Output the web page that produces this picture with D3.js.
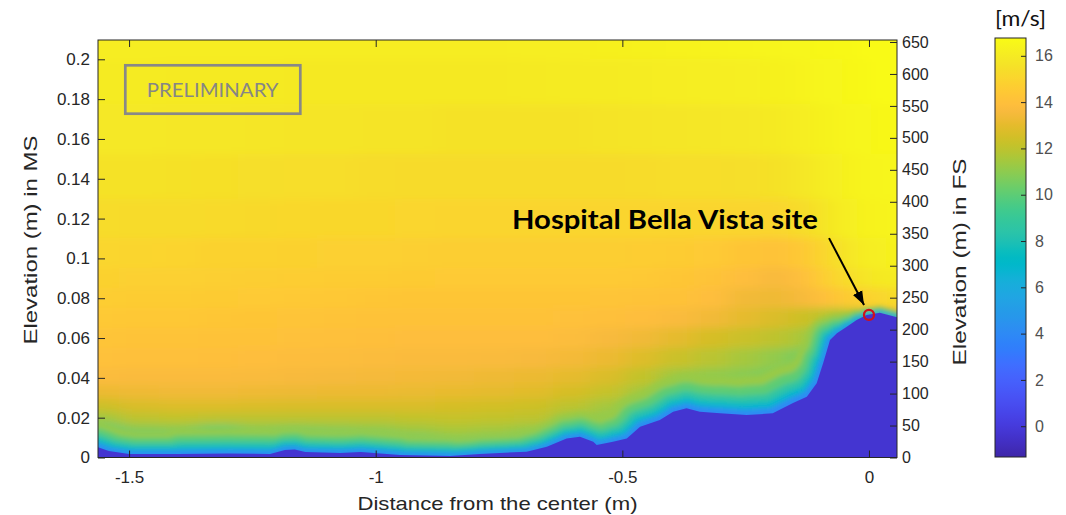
<!DOCTYPE html>
<html>
<head>
<meta charset="utf-8">
<script src="https://cdn.jsdelivr.net/npm/d3@7"></script>
<style>
  body { margin: 0; background: #fff; }
  svg { display: block; font-family: "Liberation Sans", Arial, sans-serif; }
</style>
</head>
<body>
<svg id="chart" width="1066" height="515"></svg>
<script>
// ---------------- data ----------------
var GROUND = -0.3;   // speed inside the terrain
var N = null;        // cell lies inside the terrain

// column centres (distance from the center, m)
var distance = [-1.56, -1.48, -1.40, -1.32, -1.24, -1.16, -1.08, -1.00, -0.92, -0.84, -0.76, -0.68, -0.60,
                -0.53, -0.46, -0.39, -0.32, -0.25, -0.19, -0.14, -0.10, -0.07, -0.04, -0.01, 0.02, 0.05];

// row centres (elevation in MS, m), bottom to top
var elevation = [0.002, 0.005, 0.009, 0.014, 0.02, 0.026, 0.033, 0.04, 0.05, 0.06, 0.07, 0.08, 0.09, 0.10,
                 0.12, 0.14, 0.165, 0.19, 0.21];

// wind speed [m/s], one row per elevation
var speed = [
  [N,N,N,N,N,N,N,N,N,N,N,N,N,N,N,N,N,N,N,N,N,N,N,N,N,N],
  [N,7.5,7.6,6.5,7.5,6.0,7.2,7.6,8.5,9.3,8.8,8.0,N,N,N,N,N,N,N,N,N,N,N,N,N,N],
  [7.8,9.5,9.6,8.5,9.8,9.0,9.5,9.8,10.3,10.8,10.6,10.1,N,9.5,N,N,N,N,N,N,N,N,N,N,N,N],
  [10.0,10.9,11.0,10.4,11.0,10.8,11.0,11.1,11.4,11.6,11.5,11.2,10.3,10.5,N,N,N,N,N,N,N,N,N,N,N,N],
  [11.4,12.0,12.1,12.0,12.0,12.0,12.0,12.0,12.1,12.2,12.1,12.0,11.3,11.0,10.5,N,N,N,N,N,N,N,N,N,N,N],
  [12.4,12.7,12.8,12.8,12.75,12.7,12.7,12.7,12.7,12.6,12.5,12.4,12.0,11.5,11.0,10.5,10.5,10.5,10.3,N,N,N,N,N,N,N],
  [13.2,13.3,13.35,13.35,13.3,13.25,13.2,13.2,13.15,13.1,13.0,12.9,12.6,12.2,11.5,10.8,10.8,10.6,10.4,10.0,N,N,N,N,N,N],
  [13.75,13.7,13.7,13.7,13.65,13.6,13.55,13.5,13.45,13.4,13.3,13.2,13.0,12.7,12.1,11.4,11.1,10.9,10.6,10.1,10.0,N,N,N,N,N],
  [14.05,14.0,14.0,13.95,13.9,13.85,13.8,13.75,13.7,13.7,13.65,13.6,13.45,13.2,12.8,12.3,11.9,11.5,11.1,10.6,10.5,N,N,N,N,N],
  [14.25,14.2,14.2,14.15,14.1,14.05,14.0,13.95,13.9,13.9,13.9,13.9,13.8,13.6,13.35,13.0,12.6,12.3,12.0,11.6,11.0,N,N,N,N,N],
  [14.45,14.4,14.4,14.35,14.3,14.25,14.2,14.15,14.1,14.1,14.1,14.1,14.05,14.0,13.9,13.7,13.4,13.0,12.7,12.4,12.1,11.6,11.8,13.0,13.2,13.4],
  [14.65,14.6,14.6,14.55,14.5,14.45,14.4,14.35,14.3,14.3,14.3,14.3,14.3,14.25,14.2,14.1,13.9,13.4,13.3,13.5,13.9,14.3,14.6,14.8,15.0,15.3],
  [14.85,14.8,14.8,14.75,14.7,14.65,14.6,14.6,14.55,14.5,14.5,14.5,14.5,14.5,14.45,14.35,14.2,13.9,13.6,13.9,14.5,15.0,15.4,15.7,15.9,16.0],
  [15.05,15.0,14.95,14.9,14.9,14.85,14.8,14.8,14.75,14.7,14.7,14.7,14.7,14.7,14.65,14.6,14.5,14.3,14.1,14.4,14.9,15.4,15.8,16.1,16.2,16.3],
  [15.35,15.3,15.3,15.25,15.2,15.15,15.1,15.1,15.05,15.0,15.0,15.0,15.0,15.0,15.0,15.0,15.0,15.0,15.05,15.3,15.6,15.95,16.2,16.35,16.4,16.45],
  [15.6,15.6,15.55,15.5,15.45,15.4,15.4,15.35,15.3,15.3,15.3,15.3,15.3,15.3,15.35,15.4,15.4,15.45,15.55,15.75,16.0,16.2,16.35,16.45,16.5,16.55],
  [15.85,15.85,15.8,15.8,15.75,15.7,15.7,15.65,15.65,15.6,15.6,15.6,15.6,15.65,15.7,15.75,15.8,15.85,15.95,16.1,16.3,16.4,16.5,16.55,16.6,16.6],
  [16.0,16.0,15.95,15.95,15.95,15.9,15.9,15.9,15.9,15.9,15.9,15.95,16.0,16.0,16.05,16.1,16.15,16.2,16.3,16.4,16.5,16.55,16.6,16.65,16.7,16.7],
  [16.1,16.1,16.1,16.1,16.1,16.1,16.1,16.1,16.1,16.1,16.1,16.15,16.2,16.25,16.3,16.35,16.4,16.45,16.5,16.55,16.6,16.65,16.65,16.7,16.7,16.7]
];

// terrain profile (top of the blue region)
var groundX = [-1.566,-1.541,-1.50,-1.40,-1.30,-1.214,-1.184,-1.164,-1.143,-1.072,-1.03,-0.951,-0.849,-0.789,
               -0.694,-0.653,-0.613,-0.586,-0.559,-0.552,-0.519,-0.491,-0.464,-0.424,-0.397,-0.370,-0.343,
               -0.302,-0.248,-0.195,-0.154,-0.126,-0.106,-0.093,-0.079,-0.065,-0.045,-0.025,-0.005,0.022,0.058];
var groundY = [0.0054,0.0033,0.0018,0.0018,0.0020,0.0018,0.0038,0.0040,0.0028,0.0023,0.0028,0.0013,0.0008,0.0018,
               0.0029,0.0054,0.0096,0.0104,0.0079,0.0063,0.0079,0.0096,0.0155,0.0188,0.0230,0.0247,0.0230,
               0.0222,0.0213,0.0222,0.0274,0.0305,0.0373,0.0473,0.0590,0.0624,0.0657,0.0691,0.0716,0.0727,0.0704];
// thickness of the slow layer hugging the terrain (m), at each groundX
var layerDepth = [0.013,0.012,0.011,0.011,0.014,0.011,0.011,0.011,0.011,0.011,0.011,0.011,0.009,0.009,
                  0.010,0.011,0.012,0.012,0.013,0.013,0.014,0.015,0.016,0.017,0.017,0.017,0.018,
                  0.018,0.019,0.020,0.020,0.018,0.015,0.013,0.011,0.008,0.006,0.004,0.003,0.003,0.003];
// speed inside that layer, outer to inner, and the share of the depth it reaches
var layerSpeed = [11.2, 10.0, 8.5, 6.8, 4.0];
var layerShare = [1.0, 0.75, 0.5, 0.3, 0.14];

var site = {x: 0, y: 0.0716, label: "Hospital Bella Vista site"};

var distTicks = [-1.5, -1, -0.5, 0];
var elevTicks = [0, 0.02, 0.04, 0.06, 0.08, 0.1, 0.12, 0.14, 0.16, 0.18, 0.2];
var fsTicks = [0, 50, 100, 150, 200, 250, 300, 350, 400, 450, 500, 550, 600, 650];
var speedTicks = [0, 2, 4, 6, 8, 10, 12, 14, 16];
var speedRange = [-1.33, 16.77];

// MATLAB parula
var parula = [[0.2422,0.1504,0.6603],[0.2504,0.1650,0.7076],[0.2578,0.1818,0.7511],[0.2647,0.1978,0.7952],
  [0.2706,0.2147,0.8364],[0.2751,0.2342,0.8710],[0.2783,0.2559,0.8991],[0.2803,0.2782,0.9221],
  [0.2813,0.3006,0.9414],[0.2810,0.3228,0.9579],[0.2795,0.3447,0.9717],[0.2760,0.3667,0.9829],
  [0.2699,0.3892,0.9906],[0.2602,0.4123,0.9952],[0.2440,0.4358,0.9988],[0.2206,0.4603,0.9973],
  [0.1963,0.4847,0.9892],[0.1834,0.5074,0.9798],[0.1786,0.5289,0.9682],[0.1764,0.5499,0.9520],
  [0.1687,0.5703,0.9359],[0.1540,0.5902,0.9218],[0.1460,0.6091,0.9079],[0.1380,0.6276,0.8973],
  [0.1248,0.6459,0.8883],[0.1113,0.6635,0.8763],[0.0952,0.6798,0.8598],[0.0689,0.6948,0.8394],
  [0.0297,0.7082,0.8163],[0.0036,0.7203,0.7917],[0.0067,0.7312,0.7660],[0.0433,0.7411,0.7394],
  [0.0964,0.7500,0.7120],[0.1408,0.7584,0.6842],[0.1717,0.7670,0.6554],[0.1938,0.7758,0.6251],
  [0.2161,0.7843,0.5923],[0.2470,0.7918,0.5567],[0.2906,0.7973,0.5188],[0.3406,0.8008,0.4789],
  [0.3909,0.8029,0.4354],[0.4456,0.8024,0.3909],[0.5044,0.7993,0.3480],[0.5616,0.7942,0.3045],
  [0.6174,0.7876,0.2612],[0.6720,0.7793,0.2227],[0.7242,0.7698,0.1910],[0.7738,0.7598,0.1646],
  [0.8203,0.7498,0.1535],[0.8634,0.7406,0.1596],[0.9035,0.7330,0.1774],[0.9393,0.7288,0.2100],
  [0.9728,0.7298,0.2394],[0.9956,0.7434,0.2371],[0.9970,0.7659,0.2199],[0.9952,0.7893,0.2028],
  [0.9892,0.8136,0.1885],[0.9786,0.8386,0.1766],[0.9676,0.8639,0.1643],[0.9610,0.8890,0.1537],
  [0.9597,0.9135,0.1423],[0.9628,0.9373,0.1265],[0.9691,0.9606,0.1064],[0.9769,0.9839,0.0805]];

// ---------------- layout ----------------
var plot = {left: 98, right: 897, top: 40, bottom: 457.5};
var cbar = {left: 995, right: 1026, top: 38, bottom: 457};
var axisFont = "'Liberation Sans', Arial, sans-serif";
var noteFont = "Lato, 'Open Sans', sans-serif";

var svg = d3.select("#chart");
var defs = svg.append("defs");

var parulaHex = parula.map(c => d3.rgb(c[0]*255, c[1]*255, c[2]*255).formatHex());
var color = d3.scaleLinear()
  .domain(parulaHex.map((c, i) => speedRange[0] + i * (speedRange[1] - speedRange[0]) / (parulaHex.length - 1)))
  .range(parulaHex)
  .clamp(true);

var x = d3.scaleLinear().domain([-1.563, 0.0568]).range([plot.left, plot.right]);
var y = d3.scaleLinear().domain([0, 0.2097]).range([plot.bottom, plot.top]);
var yR = d3.scaleLinear().domain([0, 653.1]).range([plot.bottom, plot.top]);

defs.append("clipPath").attr("id", "plotClip")
  .append("rect")
  .attr("x", plot.left).attr("y", plot.top)
  .attr("width", plot.right - plot.left).attr("height", plot.bottom - plot.top);

defs.append("filter").attr("id", "smooth")
  .attr("filterUnits", "userSpaceOnUse")
  .attr("x", -100).attr("y", -100).attr("width", 1300).attr("height", 720)
  .append("feGaussianBlur").attr("stdDeviation", "10 4");

defs.append("filter").attr("id", "rimBlur")
  .attr("filterUnits", "userSpaceOnUse")
  .attr("x", -100).attr("y", -100).attr("width", 1300).attr("height", 720)
  .append("feGaussianBlur").attr("stdDeviation", "2.5");

//************************ speed field *************************/
function edges(c, lo, hi) {
  var e = [lo];
  for (var i = 1; i < c.length; i++) e.push((c[i - 1] + c[i]) / 2);
  e.push(hi);
  return e;
}
var xEdges = edges(distance, -1.75, 0.15);
var yEdges = edges(elevation, -0.02, 0.25);

var cells = [];
distance.forEach((dx, j) => {
  var above = null;
  for (var i = speed.length - 1; i >= 0; i--) {
    var v = speed[i][j];
    // hidden under the terrain: carry the value from above so no halo leaks out
    if (v === null) v = above;
    above = v;
    cells.push({x0: xEdges[j], x1: xEdges[j + 1], y0: yEdges[i], y1: yEdges[i + 1], v: v});
  }
});

var field = svg.append("g").attr("clip-path", "url(#plotClip)");

field.append("g")
  .attr("filter", "url(#smooth)")
  .selectAll("rect")
  .data(cells)
  .enter().append("rect")
  .attr("x", d => x(d.x0))
  .attr("y", d => y(d.y1))
  .attr("width", d => x(d.x1) - x(d.x0) + 0.5)
  .attr("height", d => y(d.y0) - y(d.y1) + 0.5)
  .attr("fill", d => color(d.v))
  .attr("shape-rendering", "crispEdges");

//************************ slow layer over the terrain *************************/
var terrain = groundX.map((gx, i) => ({x: gx, y: groundY[i], depth: layerDepth[i]}));
var segments = d3.pairs(terrain);
var rim = field.append("g").attr("filter", "url(#rimBlur)");

layerSpeed.forEach((v, k) => {
  rim.append("g")
    .selectAll("line")
    .data(segments)
    .enter().append("line")
    .attr("x1", d => x(d[0].x)).attr("y1", d => y(d[0].y))
    .attr("x2", d => x(d[1].x)).attr("y2", d => y(d[1].y))
    .attr("stroke", color(v))
    .attr("stroke-linecap", "round")
    .attr("stroke-width", d => 2 * layerShare[k] * (y(0) - y((d[0].depth + d[1].depth) / 2)));
});

//************************ terrain *************************/
field.append("path")
  .datum(terrain)
  .attr("fill", color(GROUND))
  .attr("d", d3.area()
    .x(d => x(d.x))
    .y0(y(-0.01))
    .y1(d => y(d.y)));

//************************ axes *************************/
function styleAxis(g, size) {
  g.attr("color", "#262626")
   .attr("font-family", axisFont)
   .attr("font-size", size);
  g.select(".domain").remove();
  g.selectAll("text").attr("fill", "#262626");
}

svg.append("g")
  .attr("transform", "translate(0," + plot.bottom + ")")
  .call(d3.axisBottom(x).tickValues(distTicks).tickFormat(d => String(d)).tickSize(-7).tickPadding(13))
  .call(g => styleAxis(g, 17));

svg.append("g")
  .attr("transform", "translate(0," + plot.top + ")")
  .call(d3.axisTop(x).tickValues(distTicks).tickFormat("").tickSize(-7))
  .call(g => styleAxis(g, 17));

svg.append("g")
  .attr("transform", "translate(" + plot.left + ",0)")
  .call(d3.axisLeft(y).tickValues(elevTicks).tickFormat(d => String(+d.toFixed(2))).tickSize(-7).tickPadding(8))
  .call(g => styleAxis(g, 17));

svg.append("g")
  .attr("transform", "translate(" + plot.right + ",0)")
  .call(d3.axisRight(yR).tickValues(fsTicks).tickFormat(d => String(d)).tickSize(-7).tickPadding(5))
  .call(g => styleAxis(g, 16));

svg.append("rect")
  .attr("x", plot.left).attr("y", plot.top)
  .attr("width", plot.right - plot.left).attr("height", plot.bottom - plot.top)
  .attr("fill", "none").attr("stroke", "#262626").attr("stroke-width", 1);

// axis titles
svg.append("text")
  .attr("x", (plot.left + plot.right) / 2).attr("y", 510)
  .attr("text-anchor", "middle").attr("font-size", 19).attr("fill", "#262626")
  .attr("textLength", 280).attr("lengthAdjust", "spacingAndGlyphs")
  .text("Distance from the center (m)");

svg.append("text")
  .attr("transform", "translate(37,240) rotate(-90)")
  .attr("text-anchor", "middle").attr("font-size", 19).attr("fill", "#262626")
  .attr("textLength", 209).attr("lengthAdjust", "spacingAndGlyphs")
  .text("Elevation (m) in MS");

svg.append("text")
  .attr("transform", "translate(966,262) rotate(-90)")
  .attr("text-anchor", "middle").attr("font-size", 19).attr("fill", "#262626")
  .attr("textLength", 207).attr("lengthAdjust", "spacingAndGlyphs")
  .text("Elevation (m) in FS");

//************************ colorbar *************************/
var cb = d3.scaleLinear().domain(speedRange).range([cbar.bottom, cbar.top]);
var grad = defs.append("linearGradient").attr("id", "parulaGrad")
  .attr("x1", 0).attr("y1", 1).attr("x2", 0).attr("y2", 0);
grad.selectAll("stop")
  .data(parulaHex)
  .enter().append("stop")
  .attr("offset", (d, i) => i / (parulaHex.length - 1))
  .attr("stop-color", d => d);

svg.append("rect")
  .attr("x", cbar.left).attr("y", cb(speedRange[1]))
  .attr("width", cbar.right - cbar.left).attr("height", cb(speedRange[0]) - cb(speedRange[1]))
  .attr("fill", "url(#parulaGrad)")
  .attr("stroke", "#262626").attr("stroke-width", 1);

svg.append("g")
  .attr("transform", "translate(" + cbar.right + ",0)")
  .call(d3.axisRight(cb).tickValues(speedTicks).tickFormat(d => String(d)).tickSize(-5).tickPadding(9))
  .call(g => styleAxis(g, 16))
  .call(g => g.selectAll("text").attr("fill", "#505050"));

svg.append("text")
  .attr("x", cbar.left).attr("y", 26)
  .style("font-family", noteFont).attr("font-size", 21).attr("fill", "#111")
  .attr("textLength", 51).attr("lengthAdjust", "spacingAndGlyphs")
  .text("[m/s]");

//************************ annotations *************************/
defs.append("marker").attr("id", "arrowHead")
  .attr("viewBox", "0 0 10 10").attr("refX", 10).attr("refY", 5)
  .attr("markerWidth", 7).attr("markerHeight", 7).attr("markerUnits", "strokeWidth")
  .attr("orient", "auto")
  .append("path").attr("d", "M0,1.3 L10,5 L0,8.7 Z").attr("fill", "#000");

svg.append("line")
  .attr("x1", x(-0.081)).attr("y1", y(0.1102))
  .attr("x2", x(-0.010)).attr("y2", y(0.0766))
  .attr("stroke", "#000").attr("stroke-width", 2)
  .attr("marker-end", "url(#arrowHead)");

svg.append("circle")
  .attr("cx", x(site.x)).attr("cy", y(site.y)).attr("r", 5)
  .attr("fill", "none").attr("stroke", "#d0101a").attr("stroke-width", 2.3);

svg.append("text")
  .attr("x", 512).attr("y", 229)
  .style("font-family", noteFont).attr("font-weight", 700)
  .attr("font-size", 26).attr("fill", "#000")
  .attr("textLength", 306).attr("lengthAdjust", "spacingAndGlyphs")
  .text(site.label);

svg.append("rect")
  .attr("x", 125.3).attr("y", 65.3).attr("width", 175).attr("height", 48.4)
  .attr("fill", "none").attr("stroke", "#888").attr("stroke-width", 2.7);

svg.append("text")
  .attr("x", 212.7).attr("y", 96.7).attr("text-anchor", "middle")
  .style("font-family", noteFont).attr("font-size", 20).attr("fill", "#868686")
  .attr("textLength", 131.7).attr("lengthAdjust", "spacingAndGlyphs")
  .text("PRELIMINARY");
</script>
</body>
</html>
